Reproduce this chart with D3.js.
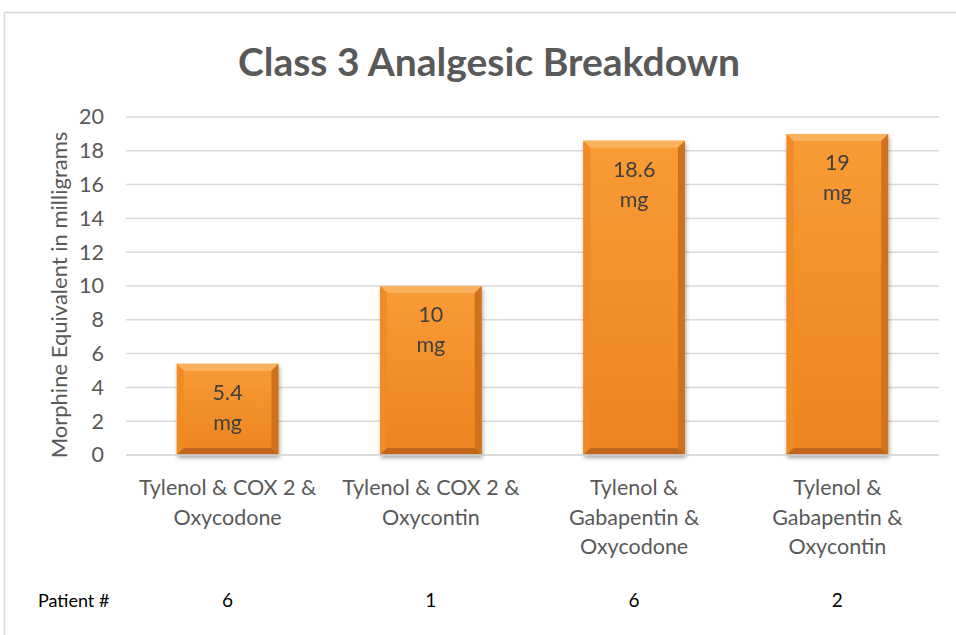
<!DOCTYPE html>
<html>
<head>
<meta charset="utf-8">
<script src="https://cdn.jsdelivr.net/npm/d3@7"></script>
<style>
  body { margin: 0; background: #fff; }
  svg { display: block; font-family: Lato, "Open Sans", sans-serif; }
</style>
</head>
<body>
<div id="chart"></div>
<script>
(function chart() {

  var categories = [
    ["Tylenol & COX 2 &", "Oxycodone"],
    ["Tylenol & COX 2 &", "Oxycontin"],
    ["Tylenol &", "Gabapentin &", "Oxycodone"],
    ["Tylenol &", "Gabapentin &", "Oxycontin"]
  ];
  var values = [5.4, 10, 18.6, 19];
  var patients = ["6", "1", "6", "2"];
  var yTicks = [0, 2, 4, 6, 8, 10, 12, 14, 16, 18, 20];

  var W = 956, H = 635;
  var margin = { top: 117, right: 17, bottom: 180, left: 126 };
  var width = W - margin.left - margin.right,
      height = H - margin.top - margin.bottom;

  var svg = d3.select("#chart").append("svg")
    .attr("width", W)
    .attr("height", H);

  // gradients for the bevelled bars
  var defs = svg.append("defs");
  var g1 = defs.append("linearGradient").attr("id", "barFill")
    .attr("x1", 0).attr("y1", 0).attr("x2", 0).attr("y2", 1);
  g1.append("stop").attr("offset", "0%").attr("stop-color", "#f99b35");
  g1.append("stop").attr("offset", "100%").attr("stop-color", "#ec8420");

  var shadow = defs.append("filter").attr("id", "shadow")
    .attr("x", "-10%").attr("y", "-10%").attr("width", "130%").attr("height", "130%");
  shadow.append("feGaussianBlur").attr("in", "SourceAlpha").attr("stdDeviation", 2);
  shadow.append("feOffset").attr("dx", 1).attr("dy", 3).attr("result", "off");
  shadow.append("feComponentTransfer").append("feFuncA").attr("type", "linear").attr("slope", 0.35);
  var merge = shadow.append("feMerge");
  merge.append("feMergeNode");
  merge.append("feMergeNode").attr("in", "SourceGraphic");

  // chart area border (runs off the picture at right and bottom)
  svg.append("rect")
    .attr("x", 4.5).attr("y", 12.5)
    .attr("width", 1000).attr("height", 700)
    .attr("fill", "none")
    .attr("stroke", "#d9d9d9")
    .attr("stroke-width", 1.5);

  svg.append("text")
    .attr("x", 489).attr("y", 76)
    .attr("text-anchor", "middle")
    .attr("font-size", 39)
    .attr("font-weight", "bold")
    .attr("fill", "#595959")
    .text("Class 3 Analgesic Breakdown");

  var g = svg.append("g")
    .attr("transform", "translate(" + margin.left + "," + margin.top + ")");

  var x = d3.scaleBand()
    .domain(d3.range(values.length))
    .range([0, width])
    .paddingInner(0.5)
    .paddingOuter(0.25);

  var y = d3.scaleLinear().domain([0, 20]).range([height, 0]);

  // gridlines
  g.append("g")
    .selectAll("line")
    .data(yTicks)
    .enter().append("line")
    .attr("x1", 0).attr("x2", width)
    .attr("y1", function(d) { return y(d); })
    .attr("y2", function(d) { return y(d); })
    .attr("stroke", "#d9d9d9")
    .attr("stroke-width", 1.5);

  var yAxis = g.append("g")
    .call(d3.axisLeft(y).tickValues(yTicks).tickSize(0).tickPadding(22));
  yAxis.select(".domain").remove();
  yAxis.selectAll("text")
    .attr("font-family", "Lato, sans-serif")
    .attr("font-size", 21.5)
    .attr("fill", "#595959");

  svg.append("text")
    .attr("transform", "translate(67," + (margin.top + height / 2 + 9) + ") rotate(-90)")
    .attr("text-anchor", "middle")
    .attr("font-size", 22)
    .attr("fill", "#595959")
    .text("Morphine Equivalent in milligrams");

  // bars
  var bev = 7;
  var bars = g.selectAll(".bar")
    .data(values)
    .enter().append("g")
    .attr("class", "bar")
    .attr("filter", "url(#shadow)");

  bars.append("rect")
    .attr("x", function(d, i) { return x(i); })
    .attr("y", function(d) { return y(d); })
    .attr("width", x.bandwidth())
    .attr("height", function(d) { return height - y(d); })
    .attr("fill", "url(#barFill)");

  function bevel(sel, color, pts) {
    sel.append("polygon")
      .attr("fill", color)
      .attr("points", function(d, i) {
        var x0 = x(i), x1 = x(i) + x.bandwidth(), y0 = y(d), y1 = height;
        return pts(x0, x1, y0, y1).map(function(p) { return p.join(","); }).join(" ");
      });
  }
  bevel(bars, "#fbb25e", function(x0, x1, y0, y1) {
    return [[x0, y0], [x1, y0], [x1 - bev, y0 + bev], [x0 + bev, y0 + bev]];
  });
  bevel(bars, "#f08a24", function(x0, x1, y0, y1) {
    return [[x0, y0], [x0 + bev, y0 + bev], [x0 + bev, y1 - bev], [x0, y1]];
  });
  bevel(bars, "#cf721c", function(x0, x1, y0, y1) {
    return [[x1, y0], [x1, y1], [x1 - bev, y1 - bev], [x1 - bev, y0 + bev]];
  });
  bevel(bars, "#c0661a", function(x0, x1, y0, y1) {
    return [[x0, y1], [x0 + bev, y1 - bev], [x1 - bev, y1 - bev], [x1, y1]];
  });

  // value labels
  bars.each(function(d, i) {
    var t = d3.select(this).append("text")
      .attr("text-anchor", "middle")
      .attr("font-size", 21.5)
      .attr("fill", "#404040");
    t.append("tspan")
      .attr("x", x(i) + x.bandwidth() / 2)
      .attr("y", y(d) + 36)
      .text(d);
    t.append("tspan")
      .attr("x", x(i) + x.bandwidth() / 2)
      .attr("dy", 30)
      .text("mg");
  });

  // x axis line
  g.append("line")
    .attr("x1", 0).attr("x2", width)
    .attr("y1", height).attr("y2", height)
    .attr("stroke", "#d9d9d9")
    .attr("stroke-width", 1.5);

  // category labels
  g.selectAll(".cat")
    .data(categories)
    .enter().append("text")
    .attr("class", "cat")
    .attr("text-anchor", "middle")
    .attr("font-size", 21.5)
    .attr("fill", "#595959")
    .each(function(lines, i) {
      var t = d3.select(this);
      lines.forEach(function(l, j) {
        t.append("tspan")
          .attr("x", x(i) + x.bandwidth() / 2)
          .attr("y", height + 40 + j * 29.5)
          .text(l);
      });
    });

  // patient row
  svg.append("text")
    .attr("x", 38).attr("y", 607)
    .attr("font-size", 18)
    .attr("fill", "#000")
    .text("Patient #");

  g.selectAll(".pat")
    .data(patients)
    .enter().append("text")
    .attr("class", "pat")
    .attr("x", function(d, i) { return x(i) + x.bandwidth() / 2; })
    .attr("y", 607 - margin.top)
    .attr("text-anchor", "middle")
    .attr("font-size", 19)
    .attr("fill", "#000")
    .text(function(d) { return d; });

})();
</script>
</body>
</html>
